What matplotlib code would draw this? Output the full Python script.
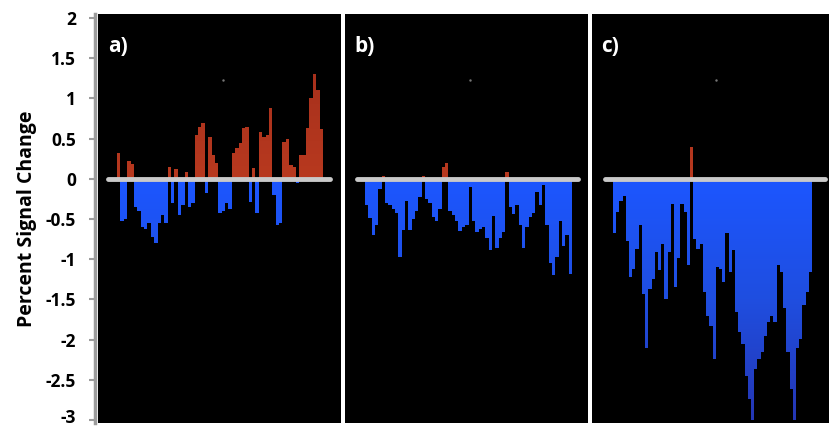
import numpy as np
import matplotlib
matplotlib.use('Agg')
import matplotlib.pyplot as plt
import matplotlib.transforms as mtransforms
from matplotlib.path import Path
from matplotlib.patches import PathPatch
from matplotlib.colors import LinearSegmentedColormap

plt.rcParams['font.family'] = ['Open Sans', 'DejaVu Sans']

# Percent signal change per bar
vals_a = [0.32, -0.52, -0.50, 0.22, 0.18, -0.35, -0.40, -0.60, -0.63, -0.55,
          -0.72, -0.80, -0.55, -0.45, -0.55, 0.15, -0.30, 0.12, -0.45, -0.32,
          0.08, -0.35, -0.30, 0.55, 0.65, 0.70, -0.18, 0.52, 0.30, 0.20,
          -0.43, -0.40, -0.30, -0.38, 0.32, 0.38, 0.45, 0.63, 0.65, -0.29,
          0.13, -0.43, 0.58, 0.52, 0.55, 0.88, -0.20, -0.58, -0.55, 0.46,
          0.50, 0.17, 0.15, -0.05, 0.30, 0.30, 0.63, 1.00, 1.30, 1.10, 0.62]
vals_b = [-0.32, -0.49, -0.70, -0.57, -0.13, 0.03, -0.30, -0.32, -0.38, -0.42,
          -0.97, -0.64, -0.27, -0.64, -0.50, -0.40, -0.23, 0.04, -0.25, -0.30,
          -0.47, -0.52, -0.37, 0.15, 0.20, -0.40, -0.45, -0.52, -0.65, -0.60,
          -0.57, -0.10, -0.52, -0.66, -0.62, -0.60, -0.73, -0.88, -0.46, -0.86,
          -0.73, -0.66, 0.09, -0.35, -0.44, -0.33, -0.57, -0.86, -0.60, -0.48,
          -0.42, -0.16, -0.33, -0.08, -0.57, -1.05, -1.20, -0.97, -0.52, -0.83,
          -0.70, -1.18]
vals_c = [-0.68, -0.41, -0.28, -0.21, -0.77, -1.22, -1.12, -0.87, -0.58, -1.43,
          -2.11, -1.37, -1.24, -0.91, -1.14, -0.81, -1.49, -0.91, -0.31, -1.35,
          -0.99, -0.31, -0.41, -1.07, 0.40, -0.75, -0.87, -0.81, -1.41, -1.70,
          -1.83, -2.24, -1.10, -1.12, -1.28, -0.68, -1.16, -0.89, -1.66, -1.90,
          -2.06, -2.45, -2.74, -3.00, -2.37, -2.24, -2.16, -1.95, -1.78, -1.70,
          -1.78, -1.07, -1.16, -1.61, -2.16, -2.61, -3.00, -2.11, -1.99, -1.57,
          -1.41, -1.16]
panel_labels = ['a)', 'b)', 'c)']
yticks = [2, 1.5, 1, 0.5, 0, -0.5, -1, -1.5, -2, -2.5, -3]
ytick_labels = ['2', '1.5', '1', '0.5', '0', '-0.5', '-1', '-1.5', '-2', '-2.5', '-3']

blue_cmap = LinearSegmentedColormap.from_list('b', ['#2436b4', '#1f4ee0', '#1c56ff'])
red_cmap = LinearSegmentedColormap.from_list('r', ['#b8391f', '#a6301c'])

W, H = 832, 429
fig = plt.figure(figsize=(8.32, 4.29), dpi=100)
fig.patch.set_facecolor('white')

# panel pixel extents: (axes left, axes right, first bar left, last bar right, line left, line right)
layout = [(98, 341, 117, 323, 108, 330),
          (345, 588, 365, 572, 357, 578),
          (592, 829, 613, 812, 605, 825)]
top_px, bot_px = 14, 423
ylo, yhi = -3.037, 2.05


def gradient_fill(ax, bars, cmap, y0, y1, xl):
    paths = [b.get_patch_transform().transform_path(b.get_path()) for b in bars]
    if not paths:
        return
    clip = PathPatch(Path.make_compound_path(*paths), transform=ax.transData,
                     facecolor='none', edgecolor='none')
    ax.add_patch(clip)
    grad = np.linspace(0, 1, 256).reshape(-1, 1)
    im = ax.imshow(grad, extent=[xl[0], xl[1], y0, y1], origin='lower',
                   aspect='auto', cmap=cmap, zorder=2, interpolation='bilinear')
    im.set_clip_path(clip)


for i, vals in enumerate([vals_a, vals_b, vals_c]):
    axl, axr, bl, br, ll, lr = layout[i]
    ax = fig.add_axes([axl / W, 1 - bot_px / H, (axr - axl) / W, (bot_px - top_px) / H])
    ax.set_facecolor('black')
    n = len(vals)
    ppb = (br - bl) / n
    xl = (-0.5 - (bl - axl) / ppb, n - 0.5 + (axr - br) / ppb)
    x = np.arange(n)
    v = np.array(vals)
    neg = ax.bar(x[v < 0], v[v < 0], width=1.0, color='#1c50f0', linewidth=0, zorder=1)
    pos = ax.bar(x[v >= 0], v[v >= 0], width=1.0, color='#ad341d', linewidth=0, zorder=1)
    gradient_fill(ax, list(neg), blue_cmap, -3.0, 0, xl)
    gradient_fill(ax, list(pos), red_cmap, 0, 1.4, xl)
    # zero line
    ax.plot([-0.5 - (bl - ll) / ppb, n - 0.5 + (lr - br) / ppb], [0, 0],
            color='#c9c9c9', lw=3.5, solid_capstyle='round', zorder=4)
    ax.plot(0.515 + 0.01 * (i == 2), 0.839, marker='.', ms=1.5, color='#777777',
            transform=ax.transAxes)
    ax.text(0.04, 0.92, panel_labels[i], color='white', fontsize=15,
            fontweight='bold', transform=ax.transAxes, va='center', ha='left')
    ax.set_xlim(*xl)
    ax.set_ylim(ylo, yhi)
    ax.set_xticks([])
    for s in ax.spines.values():
        s.set_visible(False)
    if i == 0:
        ax.spines['left'].set_visible(True)
        ax.spines['left'].set_color('#9c9c9c')
        ax.spines['left'].set_linewidth(2.5)
        ax.spines['left'].set_position(('outward', 2))
        ax.set_yticks(yticks)
        ax.set_yticklabels(ytick_labels, fontsize=12.5, fontweight='bold')
        ax.tick_params(axis='y', direction='out', length=4, width=1.5,
                       color='#9c9c9c', pad=10)
        ax.set_ylabel('Percent Signal Change', fontsize=14, fontweight='bold',
                      labelpad=6)
        # lift the bottom label a little so it stays inside the figure
        last = ax.get_yticklabels()[-1]
        last.set_transform(last.get_transform() +
                           mtransforms.ScaledTranslation(0, 3 / 72, fig.dpi_scale_trans))
    else:
        ax.set_yticks([])

fig.savefig('out.png', dpi=100, facecolor='white')
